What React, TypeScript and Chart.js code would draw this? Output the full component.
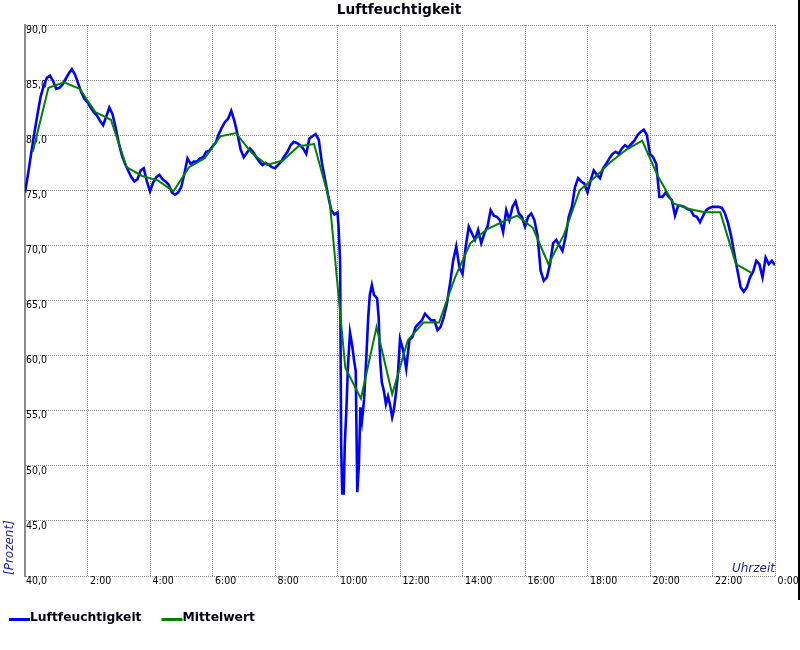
import React, { useEffect, useRef } from 'react';
import { Chart, registerables } from 'chart.js';

Chart.register(...registerables);

const CHART_TITLE = 'Luftfeuchtigkeit';
const X_TITLE = 'Uhrzeit';
const Y_TITLE = '[Prozent]';
const HUMIDITY_LABEL = 'Luftfeuchtigkeit';
const MEAN_LABEL = 'Mittelwert';

const xTickLabels = ['', '2:00', '4:00', '6:00', '8:00', '10:00', '12:00', '14:00', '16:00', '18:00', '20:00', '22:00', '0:00'];
const yTickLabels = ['40,0', '45,0', '50,0', '55,0', '60,0', '65,0', '70,0', '75,0', '80,0', '85,0', '90,0'];

// minutes since midnight
const humidityMinutes = [
  0, 6, 12, 18, 24, 30, 36, 42, 48, 54,
  60, 66, 72, 78, 84, 90, 96, 102, 108, 114,
  120, 126, 132, 138, 144, 150, 156, 162, 168, 174,
  180, 186, 192, 198, 204, 210, 216, 222, 228, 234,
  240, 246, 252, 258, 264, 270, 276, 282, 288, 294,
  300, 306, 312, 318, 324, 330, 336, 342, 348, 354,
  360, 366, 372, 378, 384, 390, 396, 402, 408, 414,
  420, 426, 432, 438, 444, 450, 456, 462, 468, 474,
  480, 486, 492, 498, 504, 510, 516, 522, 528, 534,
  540, 546, 552, 558, 564, 570, 576, 582, 588, 594,
  600, 602, 605, 607, 609, 612, 614, 617, 620, 624,
  628, 632, 635, 638, 641, 644, 647, 651, 655, 659,
  662, 666, 670, 676, 679, 682, 685, 689, 693, 697,
  701, 705, 708, 712, 716,
  720, 726, 732, 738, 744, 750, 756, 762, 768, 774,
  780, 786, 792, 798, 804, 810, 816, 822, 828, 834,
  840, 846, 852, 858, 864, 870, 876, 882, 888, 894,
  900, 906, 912, 918, 924, 930, 936, 942, 948, 954,
  960, 966, 972, 978, 984, 990, 996, 1002, 1008, 1014,
  1020, 1026, 1032, 1038, 1044, 1050, 1056, 1062, 1068, 1074,
  1080, 1086, 1092, 1098, 1104, 1110, 1116, 1122, 1128, 1134,
  1140, 1146, 1152, 1158, 1164, 1170, 1176, 1182, 1188, 1194,
  1200, 1206, 1212, 1218, 1224, 1230, 1236, 1242, 1248, 1254,
  1260, 1266, 1272, 1278, 1284, 1290, 1296, 1302, 1308, 1314,
  1320, 1326, 1332, 1338, 1344, 1350, 1356, 1362, 1368, 1374,
  1380, 1386, 1392, 1398, 1404, 1410, 1416, 1422, 1428, 1434,
  1440,
];

const humidityValues = [
  74.8, 76.5, 78.4, 80.2, 81.9, 83.5, 84.5, 85.2, 85.4, 84.9,
  84.2, 84.3, 84.6, 85.1, 85.6, 86.0, 85.5, 84.7, 83.9, 83.3,
  83.0, 82.5, 82.1, 81.8, 81.3, 80.9, 81.7, 82.5, 81.9, 80.7,
  79.3, 78.2, 77.4, 76.8, 76.2, 75.8, 76.0, 76.8, 77.0, 75.8,
  74.9, 75.7, 76.2, 76.4, 76.0, 75.8, 75.5, 74.8, 74.6, 74.8,
  75.3, 76.5, 77.9, 77.4, 77.6, 77.6, 77.9, 78.0, 78.5, 78.6,
  79.0, 79.3, 80.1, 80.7, 81.2, 81.5, 82.2, 81.3, 80.1, 78.7,
  78.0, 78.4, 78.8, 78.5, 78.0, 77.6, 77.3, 77.5, 77.3, 77.1,
  77.0, 77.3, 77.6, 78.1, 78.5, 79.1, 79.4, 79.3, 79.1, 78.8,
  78.3, 79.7, 79.9, 80.1, 79.6, 77.5, 76.0, 74.5, 73.2, 72.8,
  73.0, 71.7, 68.6, 52.0, 47.5, 47.5, 52.0, 55.0, 59.0, 62.1,
  61.0, 59.5, 58.6, 47.6, 50.0, 55.3, 54.1, 56.0, 59.5, 63.5,
  65.5, 66.4, 65.5, 65.2, 63.5, 59.5, 57.6, 56.8, 55.6, 56.3,
  55.5, 54.4, 55.0, 56.5, 58.3,
  61.5, 60.5, 58.8, 61.4, 61.7, 62.6, 62.9, 63.2, 63.8, 63.5,
  63.2, 63.2, 62.3, 62.6, 63.5, 64.7, 66.5, 68.6, 69.9, 68.0,
  67.4, 69.8, 71.7, 71.1, 70.5, 71.4, 70.2, 71.1, 71.7, 73.2,
  72.7, 72.6, 72.3, 71.2, 73.2, 72.3, 73.5, 74.0, 72.9, 72.6,
  71.7, 72.6, 72.9, 72.3, 70.9, 67.7, 66.8, 67.1, 68.3, 70.2,
  70.5, 70.0, 69.5, 70.8, 72.6, 73.5, 75.3, 76.1, 75.8, 75.6,
  74.8, 75.9, 76.8, 76.4, 76.1, 77.0, 77.4, 77.9, 78.3, 78.5,
  78.3, 78.8, 79.1, 78.9, 79.2, 79.5, 80.0, 80.3, 80.5, 80.0,
  78.3, 78.0, 77.4, 74.4, 74.4, 74.8, 74.4, 74.1, 72.7, 73.6,
  73.6, 73.5, 73.3, 73.2, 72.7, 72.6, 72.1, 72.7, 73.2, 73.4,
  73.5, 73.5, 73.5, 73.4, 72.9, 72.0, 70.8, 69.2, 67.7, 66.2,
  65.8, 66.2, 67.1, 67.6, 68.6, 68.3, 67.1, 68.9, 68.3, 68.6,
  68.2,
];

const meanMinutes = [
  15, 45, 75, 105, 135, 165, 195, 225, 255, 285,
  315, 345, 375, 405, 435, 465, 495, 525, 555, 585,
  615, 645, 675, 705, 735, 765, 795, 825, 855, 885,
  915, 945, 975, 1005, 1035, 1065, 1095, 1125, 1155, 1185,
  1215, 1245, 1275, 1305, 1335, 1365, 1395,
];

const meanValues = [
  78.5, 84.3, 84.8, 84.2, 82.1, 81.4, 77.1, 76.3, 75.9, 74.9,
  77.1, 77.9, 79.9, 80.2, 78.4, 77.3, 77.7, 79.0, 79.2, 74.0,
  58.9, 56.1, 62.6, 56.5, 61.4, 63.0, 63.0, 67.0, 70.2, 71.4,
  72.1, 72.7, 71.6, 68.3, 71.0, 75.0, 76.2, 77.6, 78.7, 79.5,
  76.3, 73.8, 73.3, 73.0, 73.0, 68.3, 67.5,
];

const BLUE = '#0000ff';
const GREEN = '#008000';
const GRID = '#8a8a8a';
const AXIS_TITLE_COLOR = '#1e1e9e';
const TICK_FONT = '"DejaVu Sans Condensed", "Liberation Sans", sans-serif';
const MAIN_FONT = '"DejaVu Sans", sans-serif';

export default function App() {
  const canvasRef = useRef<HTMLCanvasElement | null>(null);

  useEffect(() => {
    document.body.style.margin = '0';
    const canvas = canvasRef.current;
    if (!canvas) return;

    const humidityData = humidityMinutes.map((m, i) => ({ x: m, y: humidityValues[i] }));
    const meanData = meanMinutes.map((m, i) => ({ x: m, y: meanValues[i] }));

    const decor = {
      id: 'decor',
      afterDraw(chart: any) {
        const { ctx, chartArea } = chart;
        ctx.save();
        ctx.fillStyle = '#000010';
        ctx.font = `bold 13.75px ${MAIN_FONT}`;
        ctx.textAlign = 'center';
        ctx.textBaseline = 'alphabetic';
        ctx.fillText(CHART_TITLE, 399, 13.5);

        ctx.fillStyle = AXIS_TITLE_COLOR;
        ctx.font = `italic 12px ${MAIN_FONT}`;
        ctx.textAlign = 'right';
        ctx.fillText(X_TITLE, chartArea.right, chartArea.bottom - 4);

        ctx.save();
        ctx.translate(12.5, chartArea.bottom - 1);
        ctx.rotate(-Math.PI / 2);
        ctx.textAlign = 'left';
        ctx.fillText(Y_TITLE, 0, 0);
        ctx.restore();

        ctx.font = `bold 12.3px ${MAIN_FONT}`;
        ctx.textAlign = 'left';
        let x = 9;
        chart.data.datasets.forEach((ds: any) => {
          ctx.fillStyle = ds.borderColor;
          ctx.fillRect(x, 618, 21, 3);
          x += 21;
          ctx.fillStyle = '#000010';
          ctx.fillText(ds.label, x, 620.5);
          x += ctx.measureText(ds.label).width + 20;
        });

        ctx.fillStyle = '#000';
        ctx.fillRect(798, 0, 2, 600);
        ctx.restore();
      },
    };

    const chart = new Chart(canvas, {
      type: 'line',
      data: {
        datasets: [
          {
            label: HUMIDITY_LABEL,
            data: humidityData,
            borderColor: BLUE,
            backgroundColor: BLUE,
            borderWidth: 2.6,
            pointRadius: 0,
            tension: 0,
            order: 1,
          },
          {
            label: MEAN_LABEL,
            data: meanData,
            borderColor: GREEN,
            backgroundColor: GREEN,
            borderWidth: 2,
            pointRadius: 0,
            tension: 0,
            order: 0,
          },
        ],
      },
      options: {
        responsive: false,
        animation: false,
        devicePixelRatio: 1,
        layout: { padding: { left: 0, right: 25, top: 25, bottom: 50 } },
        plugins: {
          legend: { display: false },
          title: { display: false },
          tooltip: { enabled: false },
        },
        scales: {
          x: {
            type: 'linear',
            min: 0,
            max: 1440,
            afterFit: (s: any) => {
              s.height = 24;
              s.paddingLeft = 0;
              s.paddingRight = 0;
            },
            ticks: {
              stepSize: 120,
              autoSkip: false,
              maxRotation: 0,
              minRotation: 0,
              align: 'start',
              labelOffset: 2.5,
              padding: 0,
              color: '#000',
              font: { family: TICK_FONT, size: 10.5, lineHeight: 1 },
              callback: (_v: any, i: number) => xTickLabels[i],
            },
            grid: { color: GRID, lineWidth: 1, drawTicks: false },
            border: { display: false, dash: [1, 1] },
          },
          y: {
            min: 40,
            max: 90,
            afterFit: (s: any) => {
              s.width = 25;
              s.paddingTop = 0;
              s.paddingBottom = 0;
            },
            ticks: {
              stepSize: 5,
              mirror: true,
              padding: 1,
              labelOffset: 5,
              color: '#000',
              font: { family: TICK_FONT, size: 10.5, lineHeight: 1 },
              callback: (_v: any, i: number) => yTickLabels[i],
            },
            grid: { color: GRID, lineWidth: 1, drawTicks: false },
            border: { display: true, color: GRID, width: 2, dash: [1, 1] },
          },
        },
      },
      plugins: [decor],
    } as any);

    return () => {
      chart.destroy();
    };
  }, []);

  return (
    <canvas
      ref={canvasRef}
      width={800}
      height={650}
      style={{ display: 'block', width: 800, height: 650 }}
    />
  );
}
